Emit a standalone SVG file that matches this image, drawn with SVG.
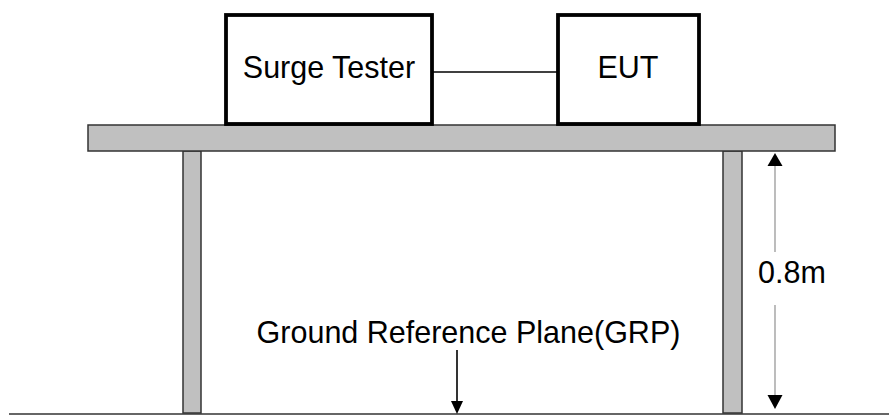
<svg xmlns="http://www.w3.org/2000/svg" width="889" height="416" viewBox="0 0 889 416">
<style>
.box{fill:#fff;stroke:#000;stroke-width:3.8}
.wood{fill:#c0c0c0;stroke:#333;stroke-width:1.5}
.lbl{font-family:"Liberation Sans",Arial,sans-serif;font-size:30.5px;fill:#000}
</style>
<rect width="889" height="416" fill="#fff"/>
<g id="table">
<rect class="wood" x="183" y="151" width="18" height="262"/>
<rect class="wood" x="723" y="151" width="19" height="262"/>
<rect class="wood" x="88" y="125" width="747" height="26"/>
</g>
<g id="ground">
<line x1="9" y1="414" x2="889" y2="414" stroke="#333" stroke-width="1.5"/>
</g>
<g id="surge-tester">
<rect class="box" x="226" y="15" width="206" height="109"/>
<text class="lbl" x="329" y="78" text-anchor="middle">Surge Tester</text>
</g>
<g id="eut">
<rect class="box" x="558" y="15" width="141" height="109"/>
<text class="lbl" x="628" y="78" text-anchor="middle">EUT</text>
</g>
<g id="connectors">
<line x1="433" y1="72" x2="557" y2="72" stroke="#000" stroke-width="1.5"/>
<line x1="775" y1="165" x2="775" y2="252" stroke="#999" stroke-width="1.3"/>
<line x1="775" y1="305" x2="775" y2="396" stroke="#999" stroke-width="1.3"/>
<polygon points="775,153 767.5,166 782.5,166" fill="#000"/>
<polygon points="775,409 767.5,395 782.5,395" fill="#000"/>
<line x1="457" y1="350" x2="457" y2="403" stroke="#000" stroke-width="1.6"/>
<polygon points="457,414 451,401 463,401" fill="#000"/>
</g>
<g id="labels">
<text class="lbl" x="792" y="283" text-anchor="middle">0.8m</text>
<text class="lbl" x="468.5" y="343" text-anchor="middle">Ground Reference Plane(GRP)</text>
</g>
</svg>
